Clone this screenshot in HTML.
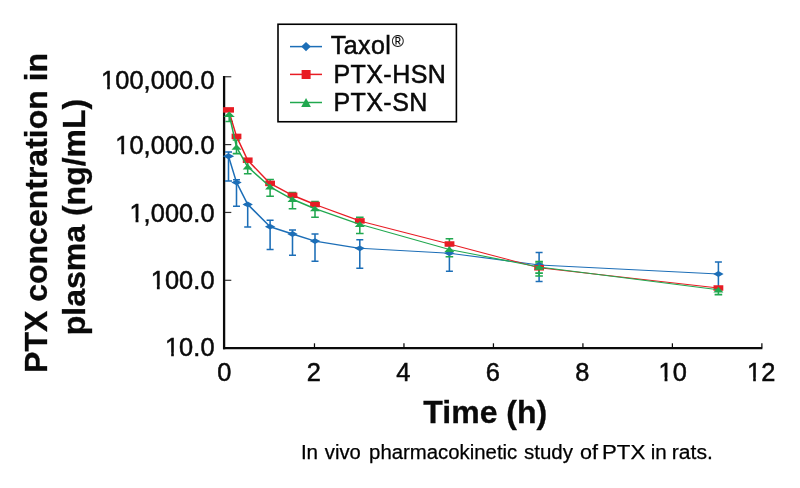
<!DOCTYPE html>
<html lang="en"><head><meta charset="utf-8"><title>In vivo pharmacokinetic study of PTX in rats</title>
<style>
html,body{margin:0;padding:0;background:#fff}
svg{display:block}
text{font-family:"Liberation Sans",sans-serif;fill:#0a0a0a}
.tk{font-size:25.4px;letter-spacing:0.07px;stroke:#0a0a0a;stroke-width:0.5px}
.lg{font-size:25px;letter-spacing:0.45px;stroke:#0a0a0a;stroke-width:0.5px}
.cp{font-size:20px;fill:#000;stroke:#000;stroke-width:0.25px}
.b{font-weight:bold;font-size:32px;stroke:#0a0a0a;stroke-width:0.3px}
</style></head><body>
<svg width="800" height="488" viewBox="0 0 800 488">
<rect width="800" height="488" fill="#fff"/>

<g stroke="#0a0a0a" fill="none">
<path d="M224.1 76.1V349.2" stroke-width="2.3"/>
<path d="M223 348.1H762.4" stroke-width="2.3"/>
<path d="M225 76.75H231.3" stroke-width="1.2" stroke="#333"/>
<path d="M225 144.6H231.3" stroke-width="1.2" stroke="#333"/>
<path d="M225 212.45H231.3" stroke-width="1.2" stroke="#333"/>
<path d="M225 280.3H231.3" stroke-width="1.2" stroke="#333"/>
<path d="M314.48 343.3V347.5" stroke-width="1.25"/>
<path d="M403.96 343.3V347.5" stroke-width="1.25"/>
<path d="M493.44 343.3V347.5" stroke-width="1.25"/>
<path d="M582.92 343.3V347.5" stroke-width="1.25"/>
<path d="M672.40 343.3V347.5" stroke-width="1.25"/>
<path d="M761.88 343.3V347.5" stroke-width="1.25"/>
</g>
<text class="tk" x="214.6" y="88.5" text-anchor="end">100,000.0</text>
<text class="tk" x="214.6" y="153.6" text-anchor="end">10,000.0</text>
<text class="tk" x="214.6" y="221.85" text-anchor="end">1,000.0</text>
<text class="tk" x="214.6" y="288.6" text-anchor="end">100.0</text>
<text class="tk" x="214.6" y="356.4" text-anchor="end">10.0</text>
<text class="tk" x="224.4" y="381.2" text-anchor="middle">0</text>
<text class="tk" x="313.9" y="381.2" text-anchor="middle">2</text>
<text class="tk" x="403.4" y="381.2" text-anchor="middle">4</text>
<text class="tk" x="492.8" y="381.2" text-anchor="middle">6</text>
<text class="tk" x="582.3" y="381.2" text-anchor="middle">8</text>
<text class="tk" x="672.8" y="381.2" text-anchor="middle">10</text>
<text class="tk" x="761.3" y="381.2" text-anchor="middle">12</text>
<g><rect x="101.00" y="85.40" width="6.18" height="5.20" fill="#fff"/><rect x="109.83" y="85.40" width="5.47" height="5.20" fill="#fff"/><rect x="116.00" y="150.40" width="5.31" height="5.20" fill="#fff"/><rect x="124.13" y="150.40" width="5.17" height="5.20" fill="#fff"/><rect x="130.00" y="218.40" width="5.56" height="5.20" fill="#fff"/><rect x="138.47" y="218.40" width="4.83" height="5.20" fill="#fff"/><rect x="151.00" y="285.40" width="5.89" height="5.20" fill="#fff"/><rect x="159.70" y="285.40" width="4.60" height="5.20" fill="#fff"/><rect x="165.00" y="352.40" width="6.18" height="5.20" fill="#fff"/><rect x="173.83" y="352.40" width="5.47" height="5.20" fill="#fff"/><rect x="659.00" y="377.40" width="5.56" height="5.20" fill="#fff"/><rect x="667.47" y="377.40" width="4.83" height="5.20" fill="#fff"/><rect x="747.00" y="377.40" width="6.18" height="5.20" fill="#fff"/><rect x="755.83" y="377.40" width="5.47" height="5.20" fill="#fff"/></g>
<text class="b" x="485.3" y="423" text-anchor="middle">Time (h)</text>
<text class="b" transform="translate(47.3 212.9) rotate(-90)" text-anchor="middle">PTX concentration in</text>
<text class="b" transform="translate(85.1 217) rotate(-90)" text-anchor="middle">plasma (ng/mL)</text>
<text class="cp" y="459.4"><tspan x="300.9" textLength="17.2" lengthAdjust="spacingAndGlyphs">In</tspan> <tspan x="324.8" textLength="36.0" lengthAdjust="spacingAndGlyphs">vivo</tspan> <tspan x="369.1" textLength="148.2" lengthAdjust="spacingAndGlyphs">pharmacokinetic</tspan> <tspan x="524.0" textLength="49.0" lengthAdjust="spacingAndGlyphs">study</tspan> <tspan x="580.0" textLength="18.0" lengthAdjust="spacingAndGlyphs">of</tspan> <tspan x="602.0" textLength="43.2" lengthAdjust="spacingAndGlyphs">PTX</tspan> <tspan x="650.7" textLength="16.0" lengthAdjust="spacingAndGlyphs">in</tspan> <tspan x="671.8" textLength="41.0" lengthAdjust="spacingAndGlyphs">rats.</tspan></text>
<path d="M228.5 151.9V181M225.0 151.9H232.0M225.0 181H232.0" stroke="#1c6eb7" stroke-width="1.55" fill="none"/>
<path d="M236.5 179.75V206.25M233.0 179.75H240.0M233.0 206.25H240.0" stroke="#1c6eb7" stroke-width="1.55" fill="none"/>
<path d="M247.7 204.4V226.9M244.2 204.4H251.2M244.2 226.9H251.2" stroke="#1c6eb7" stroke-width="1.55" fill="none"/>
<path d="M270.1 220.25V249.4M266.6 220.25H273.6M266.6 249.4H273.6" stroke="#1c6eb7" stroke-width="1.55" fill="none"/>
<path d="M292.5 230V255.25M289.0 230H296.0M289.0 255.25H296.0" stroke="#1c6eb7" stroke-width="1.55" fill="none"/>
<path d="M315.0 234V261.25M311.5 234H318.5M311.5 261.25H318.5" stroke="#1c6eb7" stroke-width="1.55" fill="none"/>
<path d="M359.8 239.7V268.2M356.3 239.7H363.3M356.3 268.2H363.3" stroke="#1c6eb7" stroke-width="1.55" fill="none"/>
<path d="M449.4 245.5V271.2M445.9 245.5H452.9M445.9 271.2H452.9" stroke="#1c6eb7" stroke-width="1.55" fill="none"/>
<path d="M539.1 252.5V281.5M535.6 252.5H542.6M535.6 281.5H542.6" stroke="#1c6eb7" stroke-width="1.55" fill="none"/>
<path d="M718.4 261.9V288M714.9 261.9H721.9M714.9 288H721.9" stroke="#1c6eb7" stroke-width="1.55" fill="none"/>
<path d="M539.1 263V273.1M535.3 263H542.9M535.3 273.1H542.9" stroke="#21a84f" stroke-width="1.55" fill="none"/>
<path d="M229.2 110.5V121.4M225.4 110.5H233.0M225.4 121.4H233.0" stroke="#21a84f" stroke-width="1.55" fill="none"/>
<path d="M236.5 140V153.6M232.7 140H240.3M232.7 153.6H240.3" stroke="#21a84f" stroke-width="1.55" fill="none"/>
<path d="M247.7 161.5V173.75M243.9 161.5H251.5M243.9 173.75H251.5" stroke="#21a84f" stroke-width="1.55" fill="none"/>
<path d="M270.1 179.4V196.25M266.3 179.4H273.9M266.3 196.25H273.9" stroke="#21a84f" stroke-width="1.55" fill="none"/>
<path d="M292.5 192.5V208.75M288.7 192.5H296.3M288.7 208.75H296.3" stroke="#21a84f" stroke-width="1.55" fill="none"/>
<path d="M315.0 201.5V217.25M311.2 201.5H318.8M311.2 217.25H318.8" stroke="#21a84f" stroke-width="1.55" fill="none"/>
<path d="M359.8 217.2V233.5M356.0 217.2H363.6M356.0 233.5H363.6" stroke="#21a84f" stroke-width="1.55" fill="none"/>
<path d="M449.4 238.8V256.8M445.6 238.8H453.2M445.6 256.8H453.2" stroke="#21a84f" stroke-width="1.55" fill="none"/>
<path d="M539.1 261.5V276M535.3 261.5H542.9M535.3 276H542.9" stroke="#21a84f" stroke-width="1.55" fill="none"/>
<path d="M718.4 287V294.6M714.6 287H722.2M714.6 294.6H722.2" stroke="#21a84f" stroke-width="1.55" fill="none"/>
<polyline points="228.5,156.2 236.5,182.4 247.7,204.4 270.1,226.7 292.5,234.0 315.0,241.1" stroke="#1c6eb7" stroke-width="1.5" fill="none" stroke-linejoin="round"/><polyline points="315.0,241.1 359.8,248.3" stroke="#1c6eb7" stroke-width="1.3" fill="none" stroke-linejoin="round"/><polyline points="359.8,248.3 449.4,253.2 539.1,264.9 718.4,274.0" stroke="#1c6eb7" stroke-width="1.05" fill="none" stroke-linejoin="round"/>
<path d="M222.8 156.25L228.5 153.35L234.2 156.25L228.5 159.15Z" fill="#1c6eb7"/>
<path d="M231.3 182.4L236.5 179.5L241.7 182.4L236.5 185.3Z" fill="#1c6eb7"/>
<path d="M242.5 204.4L247.7 201.5L252.9 204.4L247.7 207.3Z" fill="#1c6eb7"/>
<path d="M264.9 226.7L270.1 223.79999999999998L275.3 226.7L270.1 229.6Z" fill="#1c6eb7"/>
<path d="M287.3 234L292.5 231.1L297.7 234L292.5 236.9Z" fill="#1c6eb7"/>
<path d="M309.8 241.1L315.0 238.2L320.2 241.1L315.0 244.0Z" fill="#1c6eb7"/>
<path d="M354.6 248.3L359.8 245.4L365.0 248.3L359.8 251.20000000000002Z" fill="#1c6eb7"/>
<path d="M444.2 253.2L449.4 250.29999999999998L454.6 253.2L449.4 256.09999999999997Z" fill="#1c6eb7"/>
<path d="M533.9 264.9L539.1 262.0L544.3 264.9L539.1 267.79999999999995Z" fill="#1c6eb7"/>
<path d="M713.2 274L718.4 271.1L723.6 274L718.4 276.9Z" fill="#1c6eb7"/>
<polyline points="228.5,109.9 236.5,136.4 247.7,160.2 270.1,183.4 292.5,195.3 315.0,204.5" stroke="#e81c24" stroke-width="1.5" fill="none" stroke-linejoin="round"/><polyline points="315.0,204.5 359.8,220.9" stroke="#e81c24" stroke-width="1.3" fill="none" stroke-linejoin="round"/><polyline points="359.8,220.9 449.4,244.0 539.1,267.8 718.4,288.0" stroke="#e81c24" stroke-width="1.05" fill="none" stroke-linejoin="round"/>
<rect x="223.1" y="107.15" width="10.9" height="5.5" fill="#e81c24"/>
<rect x="231.6" y="133.65" width="9.8" height="5.5" fill="#e81c24"/>
<rect x="242.8" y="157.45" width="9.8" height="5.5" fill="#e81c24"/>
<rect x="265.2" y="180.65" width="9.8" height="5.5" fill="#e81c24"/>
<rect x="287.6" y="192.55" width="9.8" height="5.5" fill="#e81c24"/>
<rect x="310.1" y="201.75" width="9.8" height="5.5" fill="#e81c24"/>
<rect x="354.9" y="218.15" width="9.8" height="5.5" fill="#e81c24"/>
<rect x="444.6" y="241.25" width="9.8" height="5.5" fill="#e81c24"/>
<rect x="534.2" y="265.05" width="9.8" height="5.5" fill="#e81c24"/>
<rect x="713.5" y="285.25" width="9.8" height="5.5" fill="#e81c24"/>
<polyline points="229.2,114.5 236.5,147.2 247.7,166.8 270.1,186.8 292.5,199.3 315.0,208.7" stroke="#21a84f" stroke-width="1.5" fill="none" stroke-linejoin="round"/><polyline points="315.0,208.7 359.8,224.3" stroke="#21a84f" stroke-width="1.3" fill="none" stroke-linejoin="round"/><polyline points="359.8,224.3 449.4,249.4 539.1,267.1 718.4,289.8" stroke="#21a84f" stroke-width="1.05" fill="none" stroke-linejoin="round"/>
<path d="M223.6 117.1H234.8L229.2 111.5Z" fill="#21a84f"/>
<path d="M231.5 149.8H241.5L236.5 144.20000000000002Z" fill="#21a84f"/>
<path d="M242.7 169.4H252.7L247.7 163.8Z" fill="#21a84f"/>
<path d="M265.1 189.4H275.1L270.1 183.8Z" fill="#21a84f"/>
<path d="M287.5 201.9H297.5L292.5 196.3Z" fill="#21a84f"/>
<path d="M310.0 211.25H320.0L315.0 205.65Z" fill="#21a84f"/>
<path d="M354.8 226.9H364.8L359.8 221.3Z" fill="#21a84f"/>
<path d="M444.4 252H454.4L449.4 246.4Z" fill="#21a84f"/>
<path d="M534.1 269.75H544.1L539.1 264.15Z" fill="#21a84f"/>
<path d="M713.4 292.4H723.4L718.4 286.79999999999995Z" fill="#21a84f"/>
<rect x="278" y="24.25" width="178.4" height="97.5" fill="#fff" stroke="#000" stroke-width="1.6"/>
<path d="M290 46.6H322" stroke="#1c6eb7" stroke-width="1.5"/><path d="M301.2 46.6L306 41.9L310.8 46.6L306 51.3Z" fill="#1c6eb7"/>
<path d="M290 74.4H322" stroke="#e81c24" stroke-width="1.5"/><rect x="301.6" y="70" width="9" height="9" fill="#e81c24"/>
<path d="M290 102.5H322" stroke="#21a84f" stroke-width="1.5"/><path d="M301.2 106.9H310.9L306.05 98.1Z" fill="#21a84f"/>
<text class="lg" x="330.7" y="54.4">Taxol<tspan font-size="16.5" dy="-7.2" dx="0.4" stroke-width="0.15">®</tspan></text>
<text class="lg" x="333.4" y="83.1">PTX-HSN</text>
<text class="lg" x="333.4" y="111.3">PTX-SN</text>
</svg></body></html>
